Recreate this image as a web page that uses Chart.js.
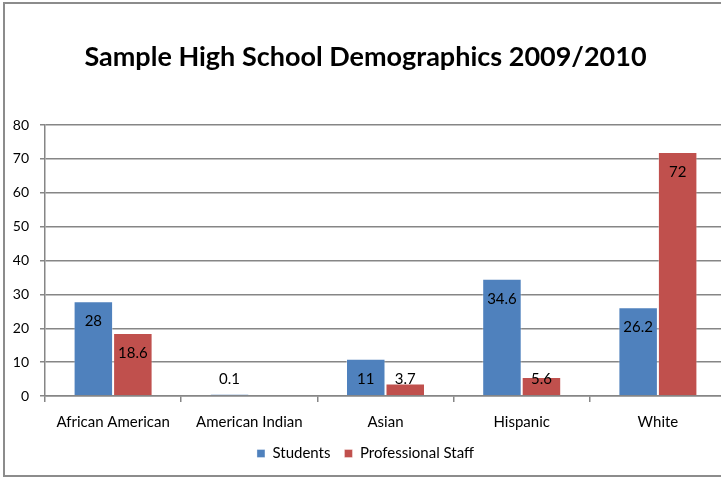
<!DOCTYPE html>
<html>
<head>
<meta charset="utf-8">
<script src="https://cdn.jsdelivr.net/npm/chart.js@4"></script>
<style>
  html, body { margin: 0; padding: 0; background: #fff; overflow: hidden; }
  #frame {
    position: absolute; left: 3px; top: 2px;
    width: 724px; height: 471px;
    border: 2px solid #8c8c8c;
  }
</style>
</head>
<body>
<div id="frame"><canvas id="demoChart" width="724" height="471"></canvas></div>
<script>
const groups = ['African American', 'American Indian', 'Asian', 'Hispanic', 'White'];
const students = [28, 0.1, 11, 34.6, 26.2];
const staff = [18.6, null, 3.7, 5.6, 72];
const yTicks = [0, 10, 20, 30, 40, 50, 60, 70, 80];

const gridGray = '#868686';

// value labels sit just inside the top of each bar, never below the baseline
const barValues = {
  id: 'barValues',
  afterDatasetsDraw(chart) {
    const ctx = chart.ctx;
    ctx.save();
    ctx.font = '15px Lato';
    ctx.fillStyle = '#000';
    ctx.textAlign = 'center';
    ctx.textBaseline = 'middle';
    chart.data.datasets.forEach((ds, i) => {
      const meta = chart.getDatasetMeta(i);
      meta.data.forEach((bar, j) => {
        const v = ds.data[j];
        if (v === null || v === undefined) return;
        const y = Math.min(bar.y + 20, bar.base - 16);
        ctx.fillText(String(v), bar.x, y);
      });
    });
    ctx.restore();
  }
};

const ctx = document.getElementById('demoChart').getContext('2d');

new Chart(ctx, {
  type: 'bar',
  data: {
    labels: groups,
    datasets: [{
      label: 'Students',
      data: students,
      backgroundColor: '#4F81BD',
      borderColor: 'rgba(255,255,255,0.35)',
      borderWidth: 1,
      borderSkipped: 'start',
      minBarLength: 2
    }, {
      label: 'Professional Staff',
      data: staff,
      backgroundColor: '#C0504D',
      borderColor: 'rgba(255,255,255,0.35)',
      borderWidth: 1,
      borderSkipped: 'start'
    }]
  },
  options: {
    responsive: false,
    animation: false,
    devicePixelRatio: 1,
    categoryPercentage: 0.58,
    barPercentage: 1,
    layout: {
      padding: { left: 0, right: 3, top: 0, bottom: 4 }
    },
    plugins: {
      title: {
        display: true,
        text: 'Sample High School Demographics 2009/2010',
        color: '#000',
        font: { family: 'Lato', size: 27, weight: 'bold', lineHeight: 1.2 },
        padding: { top: 37, bottom: 51.6 }
      },
      legend: {
        position: 'bottom',
        labels: {
          color: '#000',
          font: { family: 'Lato', size: 15 },
          boxWidth: 8,
          boxHeight: 8,
          padding: 14
        }
      },
      tooltip: { enabled: false }
    },
    scales: {
      x: {
        afterFit(scale) { scale.height = 36; },
        grid: {
          drawOnChartArea: false,
          drawTicks: true,
          tickLength: 6,
          color: gridGray,
          lineWidth: 1.5
        },
        border: { display: true, color: gridGray, width: 1.5 },
        ticks: {
          color: '#000',
          font: { family: 'Lato', size: 15 },
          padding: 11
        }
      },
      y: {
        min: 0,
        max: 80,
        afterFit(scale) { scale.width = 40; },
        afterBuildTicks(scale) {
          scale.ticks = yTicks.map(v => ({ value: v }));
        },
        grid: {
          color: gridGray,
          lineWidth: 1.5,
          tickLength: 5
        },
        border: { display: true, color: gridGray, width: 1.5 },
        ticks: {
          color: '#000',
          font: { family: 'Lato', size: 14 },
          padding: 11
        }
      }
    }
  },
  plugins: [barValues]
});
</script>
</body>
</html>
